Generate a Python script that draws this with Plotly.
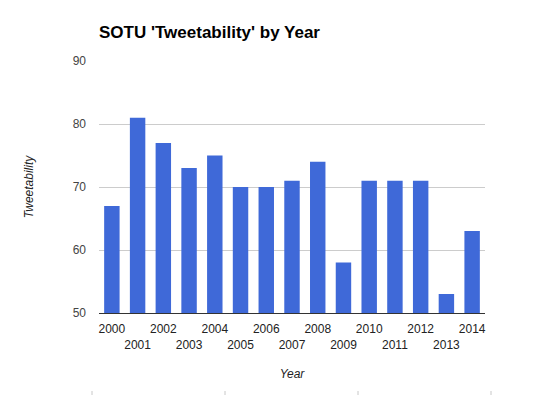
import plotly.graph_objects as go

years = [str(y) for y in range(2000, 2015)]
values = [67, 81, 77, 73, 75, 70, 70, 71, 74, 58, 71, 71, 71, 53, 63]
tick_labels = [y if i % 2 == 0 else "<br>" + y for i, y in enumerate(years)]
y_ticks = [50, 60, 70, 80, 90]

FONT = "Arial, Liberation Sans, sans-serif"
OFF = 8  # default body margin of the page

fig = go.Figure(go.Bar(x=years, y=values, marker=dict(color="#3f69d8", line=dict(width=0))))

fig.update_layout(
    width=552 - OFF, height=395 - OFF,
    margin=dict(l=99 - OFF, r=67, t=61 - OFF, b=82, autoexpand=False),
    paper_bgcolor="white", plot_bgcolor="white",
    bargap=0.4,
    showlegend=False,
    font=dict(family=FONT, size=12, color="#222"),
    title=dict(text="<b>SOTU 'Tweetability' by Year</b>", x=0, xanchor="left",
               xref="paper", y=1 - (32 - OFF) / (395 - OFF), yanchor="middle", yref="container",
               font=dict(family=FONT, size=17, color="#000")),
)

fig.update_xaxes(
    type="category", tickmode="array", tickvals=years, ticktext=tick_labels,
    range=[-0.5, 14.5], showgrid=False, showline=True, linecolor="#333", linewidth=1,
    ticks="", tickangle=0, tickfont=dict(size=12, color="#222"), ticklabelstandoff=5,
    automargin=False,
    title=dict(text="<i>Year</i>", standoff=18, font=dict(size=12, color="#222")),
)
fig.update_yaxes(
    range=[50, 90], tickvals=y_ticks, showgrid=True, gridcolor="#cccccc", gridwidth=1,
    zeroline=False, showline=False, ticks="", ticklabelstandoff=12, automargin=False,
    tickfont=dict(size=12, color="#444"),
    title=dict(text="<i>Tweetability</i>", standoff=36, font=dict(size=12, color="#222")),
)

# small gray marks at bottom edge
for px in [92, 225, 358, 491]:
    fig.add_shape(type="line", xref="paper", yref="paper",
                  x0=(px - 99) / 386, x1=(px - 99) / 386,
                  y0=(313 - 391) / 252, y1=(313 - 395) / 252,
                  line=dict(color="#c8c8c8", width=1))

fig.write_html("out.html")
